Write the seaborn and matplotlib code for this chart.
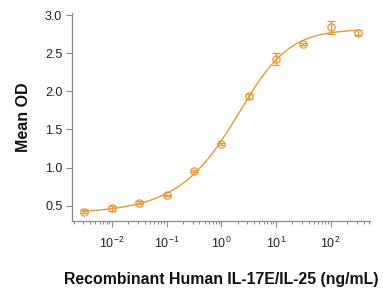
import numpy as np
import pandas as pd
import matplotlib
matplotlib.use("Agg")
import matplotlib.pyplot as plt
import seaborn as sns
from matplotlib.ticker import LogLocator, NullFormatter

# ---- data ----
dose_ng_ml = [0.00316, 0.01, 0.0316, 0.1, 0.316, 1.0, 3.16, 10.0, 31.6, 100.0, 316.0]
mean_od = [0.42, 0.465, 0.54, 0.635, 0.955, 1.31, 1.935, 2.43, 2.62, 2.84, 2.77]
od_err = [0.02, 0.03, 0.02, 0.01, 0.01, 0.01, 0.03, 0.08, 0.01, 0.08, 0.03]
y_ticks = [0.5, 1.0, 1.5, 2.0, 2.5, 3.0]
x_label = "Recombinant Human IL-17E/IL-25 (ng/mL)"
y_label = "Mean OD"

COLOR = "#E99A2C"

df = pd.DataFrame({"dose": dose_ng_ml, "od": mean_od, "err": od_err})

# ---- logistic (5PL) fit of the points, by grid search + linear least squares ----
logx = np.log10(df["dose"].to_numpy())
yv = df["od"].to_numpy()
C, H, S = np.meshgrid(np.linspace(-0.5, 1.0, 151),
                      np.linspace(0.4, 2.0, 81),
                      np.linspace(0.3, 3.0, 28), indexing="ij")
C, H, S = C.ravel()[:, None], H.ravel()[:, None], S.ravel()[:, None]
g = 1.0 / (1.0 + 10 ** (H * (C - logx[None, :]))) ** S
gm = g.mean(1, keepdims=True)
ym = yv.mean()
A = ((g - gm) * (yv - ym)).sum(1, keepdims=True) / ((g - gm) ** 2).sum(1, keepdims=True)
B = ym - A * gm
sse = ((yv - B - A * g) ** 2).sum(1)
i = np.argmin(sse)
c_, h_, s_, a_, b_ = C[i, 0], H[i, 0], S[i, 0], A[i, 0], B[i, 0]

xfit = np.logspace(np.log10(dose_ng_ml[0]) - 0.03, np.log10(dose_ng_ml[-1]) + 0.03, 400)
yfit = b_ + a_ / (1.0 + 10 ** (h_ * (c_ - np.log10(xfit)))) ** s_
fit = pd.DataFrame({"dose": xfit, "od": yfit})

# ---- figure ----
sns.set_theme(style="ticks")
plt.rcParams["font.family"] = ["Liberation Sans", "DejaVu Sans"]
plt.rcParams["mathtext.fontset"] = "custom"
plt.rcParams["mathtext.rm"] = "Liberation Sans"
plt.rcParams["mathtext.default"] = "regular"
plt.rcParams["axes.unicode_minus"] = False

fig, ax = plt.subplots(figsize=(3.83, 2.88), dpi=100)
fig.subplots_adjust(left=0.188, right=0.966, top=0.955, bottom=0.233)

sns.lineplot(data=fit, x="dose", y="od", ax=ax, color=COLOR, lw=1.0)
ax.errorbar(df["dose"], df["od"], yerr=df["err"], fmt="none", ecolor=COLOR,
            elinewidth=0.9, capsize=3, capthick=0.9)
ax.plot(df["dose"], df["od"], ls="none", marker="o", ms=5.2, mfc="none",
        mec=COLOR, mew=0.9)

ax.set_xscale("log")
ax.set_xlim(0.00187, 525)
ax.set_ylim(0.30, 3.03)
ax.set_yticks(y_ticks)
ax.set_yticklabels([f"{t:.1f}" for t in y_ticks])
ax.xaxis.set_major_locator(LogLocator(base=10, numticks=10))
ax.xaxis.set_minor_locator(LogLocator(base=10, subs=np.arange(2, 10), numticks=10))
ax.xaxis.set_minor_formatter(NullFormatter())

for side in ["top", "right"]:
    ax.spines[side].set_visible(False)
for side in ["left", "bottom"]:
    ax.spines[side].set_color("#8a8a8a")
    ax.spines[side].set_linewidth(0.9)

ax.tick_params(axis="both", which="major", direction="out", length=4, width=0.8,
               color="#8a8a8a", labelsize=9, labelcolor="#222222", pad=3)
ax.tick_params(axis="x", which="minor", direction="out", length=2.2, width=0.7,
               color="#8a8a8a")
ax.tick_params(axis="x", which="major", pad=7)

ax.set_xlabel(x_label, fontsize=11.4, fontweight="bold", labelpad=15,
              family=["Liberation Sans", "DejaVu Sans"], color="#111111")
ax.set_ylabel(y_label, fontsize=11.5, fontweight="bold", labelpad=10,
              family=["Liberation Sans", "DejaVu Sans"], color="#111111")

fig.savefig("out.png", dpi=100)
